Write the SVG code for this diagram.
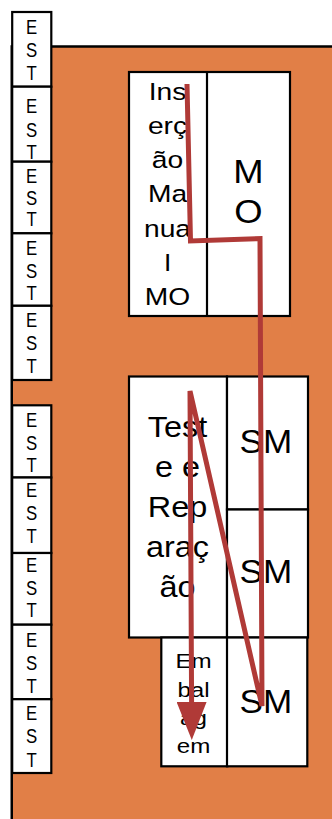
<svg xmlns="http://www.w3.org/2000/svg" width="332" height="819" viewBox="0 0 332 819">
  <defs>
    <style>
      .bg { fill: #E17F47; stroke: #000; stroke-width: 2.5; }
      .cell { fill: #fff; stroke: #000; stroke-width: 2.2; }
      .div { stroke: #000; stroke-width: 2.2; fill: none; }
      .t { font-family: "Liberation Sans", Arial, Helvetica, sans-serif; fill: #000; text-anchor: middle; }
      .est { font-size: 21px; }
      .flow { fill: none; stroke: #B03A37; stroke-width: 5; stroke-linejoin: miter; stroke-miterlimit: 3; }
    </style>
    <marker id="head" markerUnits="userSpaceOnUse" viewBox="0 0 38 30" markerWidth="38" markerHeight="30" refX="0" refY="15" orient="auto">
      <path d="M0,0 L38,15 L0,30 Z" fill="#B03A37"/>
    </marker>
  </defs>

  <!-- production floor -->
  <rect id="floor" class="bg" x="11.75" y="46.5" width="330" height="800"/>

  <!-- storage column 1 -->
  <g id="est-1-1">
    <rect class="cell" x="12.2" y="12" width="39.1" height="74.7"/>
    <g transform="translate(31.5 0) scale(0.8 1)"><text class="t est"><tspan x="0" y="34.3">E</tspan><tspan x="0" y="56.7">S</tspan><tspan x="0" y="80">T</tspan></text></g>
  </g>
  <g id="est-1-2">
    <rect class="cell" x="12.2" y="86.7" width="39.1" height="75"/>
    <g transform="translate(31.5 0) scale(0.8 1)"><text class="t est"><tspan x="0" y="112.7">E</tspan><tspan x="0" y="136.7">S</tspan><tspan x="0" y="159.3">T</tspan></text></g>
  </g>
  <g id="est-1-3">
    <rect class="cell" x="12.2" y="161.7" width="39.1" height="71.6"/>
    <g transform="translate(31.5 0) scale(0.8 1)"><text class="t est"><tspan x="0" y="182.8">E</tspan><tspan x="0" y="204.6">S</tspan><tspan x="0" y="226.4">T</tspan></text></g>
  </g>
  <g id="est-1-4">
    <rect class="cell" x="12.2" y="233.3" width="39.1" height="72.5"/>
    <g transform="translate(31.5 0) scale(0.8 1)"><text class="t est"><tspan x="0" y="255">E</tspan><tspan x="0" y="278.3">S</tspan><tspan x="0" y="300">T</tspan></text></g>
  </g>
  <g id="est-1-5">
    <rect class="cell" x="12.2" y="305.8" width="39.1" height="74.2"/>
    <g transform="translate(31.5 0) scale(0.8 1)"><text class="t est"><tspan x="0" y="326.7">E</tspan><tspan x="0" y="350">S</tspan><tspan x="0" y="373.3">T</tspan></text></g>
  </g>

  <!-- storage column 2 -->
  <g id="est-2-1">
    <rect class="cell" x="12.2" y="405.3" width="39.1" height="72.2"/>
    <g transform="translate(31.5 0) scale(0.8 1)"><text class="t est"><tspan x="0" y="426.7">E</tspan><tspan x="0" y="450">S</tspan><tspan x="0" y="471.7">T</tspan></text></g>
  </g>
  <g id="est-2-2">
    <rect class="cell" x="12.2" y="477.5" width="39.1" height="75.5"/>
    <g transform="translate(31.5 0) scale(0.8 1)"><text class="t est"><tspan x="0" y="496.7">E</tspan><tspan x="0" y="520">S</tspan><tspan x="0" y="543.3">T</tspan></text></g>
  </g>
  <g id="est-2-3">
    <rect class="cell" x="12.2" y="553" width="39.1" height="71.7"/>
    <g transform="translate(31.5 0) scale(0.8 1)"><text class="t est"><tspan x="0" y="571.7">E</tspan><tspan x="0" y="595">S</tspan><tspan x="0" y="616.7">T</tspan></text></g>
  </g>
  <g id="est-2-4">
    <rect class="cell" x="12.2" y="624.7" width="39.1" height="74.5"/>
    <g transform="translate(31.5 0) scale(0.8 1)"><text class="t est"><tspan x="0" y="646.7">E</tspan><tspan x="0" y="670">S</tspan><tspan x="0" y="693.3">T</tspan></text></g>
  </g>
  <g id="est-2-5">
    <rect class="cell" x="12.2" y="699.2" width="39.1" height="73.8"/>
    <g transform="translate(31.5 0) scale(0.8 1)"><text class="t est"><tspan x="0" y="720">E</tspan><tspan x="0" y="743.3">S</tspan><tspan x="0" y="766.7">T</tspan></text></g>
  </g>

  <!-- manual insertion cell -->
  <g id="insercao">
    <rect class="cell" x="129" y="72" width="161" height="244"/>
    <line class="div" x1="207" y1="72" x2="207" y2="316"/>
    <g transform="translate(167.5 0) scale(1.2 1)">
      <text class="t" font-size="23.5px">
        <tspan x="0" y="100">Ins</tspan><tspan x="0" y="134.2">erç</tspan><tspan x="0" y="168.3">ão</tspan><tspan x="0" y="202.5">Ma</tspan><tspan x="0" y="236.7">nua</tspan><tspan x="0" y="270.8">l</tspan><tspan x="0" y="305">MO</tspan>
      </text>
    </g>
    <g transform="translate(248.5 0) scale(1.12 1)">
      <text class="t" font-size="32.5px"><tspan x="0" y="183">M</tspan><tspan x="0" y="223">O</tspan></text>
    </g>
  </g>

  <!-- test and repair cell -->
  <g id="teste">
    <rect class="cell" x="129" y="376.5" width="98" height="261"/>
    <g transform="translate(177.5 0) scale(1.08 1)">
      <text class="t" font-size="30px">
        <tspan x="0" y="436.7">Test</tspan><tspan x="0" y="476.7">e e</tspan><tspan x="0" y="516.7">Rep</tspan><tspan x="0" y="556.7">araç</tspan><tspan x="0" y="596.7">ão</tspan>
      </text>
    </g>
  </g>

  <!-- packaging cell -->
  <g id="embalagem">
    <rect class="cell" x="161.3" y="637.5" width="66" height="128.8"/>
    <g transform="translate(193.5 0) scale(1.15 1)">
      <text class="t" font-size="21px">
        <tspan x="0" y="668.3">Em</tspan><tspan x="0" y="696.6">bal</tspan><tspan x="0" y="724.9">ag</tspan><tspan x="0" y="753.2">em</tspan>
      </text>
    </g>
  </g>

  <!-- SM stations -->
  <g id="sm-1">
    <rect class="cell" x="227" y="376.5" width="81" height="133"/>
    <g transform="translate(265.8 0) scale(1.08 1)"><text class="t" font-size="32.5px" x="0" y="453.3">SM</text></g>
  </g>
  <g id="sm-2">
    <rect class="cell" x="227" y="509.5" width="81" height="128"/>
    <g transform="translate(265.8 0) scale(1.08 1)"><text class="t" font-size="32.5px" x="0" y="583.3">SM</text></g>
  </g>
  <g id="sm-3">
    <rect class="cell" x="227" y="637.5" width="80.3" height="128.8"/>
    <g transform="translate(265.8 0) scale(1.08 1)"><text class="t" font-size="32.5px" x="0" y="713.3">SM</text></g>
  </g>

  <!-- material flow -->
  <g id="connectors">
    <path class="flow" marker-end="url(#head)" d="M187,84 L190.5,241 L260,238.5 L262,706 L190,391 L191.6,702"/>
  </g>
</svg>
